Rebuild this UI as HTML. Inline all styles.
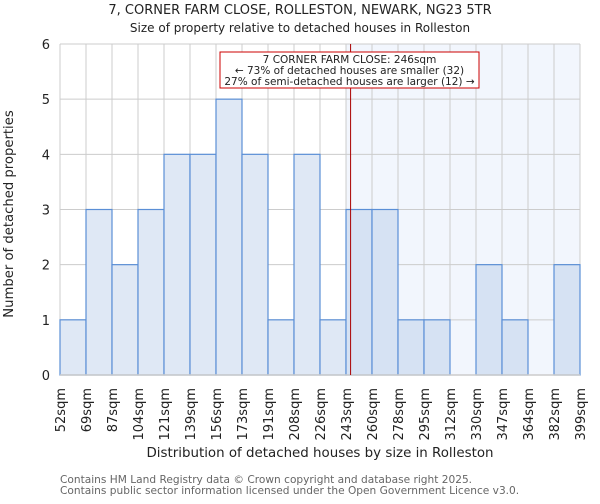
<!DOCTYPE html>
<html><head><meta charset="utf-8"><style>
body{margin:0;background:#fff;width:600px;height:500px;overflow:hidden;font-family:"DejaVu Sans","Liberation Sans",sans-serif}
</style></head><body>
<svg id="chart" width="600" height="500" xmlns="http://www.w3.org/2000/svg" font-family="DejaVu Sans, Liberation Sans, sans-serif">
<text x="300" y="14" font-size="13" text-anchor="middle" fill="#222">7, CORNER FARM CLOSE, ROLLESTON, NEWARK, NG23 5TR</text>
<text x="300" y="32" font-size="12" text-anchor="middle" fill="#222">Size of property relative to detached houses in Rolleston</text>
<g id="plot"></g>
<text x="320" y="457" font-size="13.4" text-anchor="middle" fill="#222">Distribution of detached houses by size in Rolleston</text>
<text transform="translate(13,214) rotate(-90)" font-size="13.2" text-anchor="middle" fill="#222">Number of detached properties</text>
<text x="60" y="483" font-size="10.6" fill="#666">Contains HM Land Registry data © Crown copyright and database right 2025.</text>
<text x="60" y="494" font-size="10.6" fill="#666">Contains public sector information licensed under the Open Government Licence v3.0.</text>
</svg>
<script>
const binEdges=[52,69,87,104,121,139,156,173,191,208,226,243,260,278,295,312,330,347,364,382,399];
const counts=[1,3,2,3,4,4,5,4,1,4,1,3,3,1,1,0,2,1,0,2];
const yTicks=[0,1,2,3,4,5,6];
const subjectSize=246;
const ns="http://www.w3.org/2000/svg";
const L=60,R=580,T=44,B=375,yMax=6;
const bw=(R-L)/counts.length;
function xi(i){return L+i*bw;}
function xv(v){for(let i=0;i<binEdges.length-1;i++){if(v<=binEdges[i+1])return xi(i)+(v-binEdges[i])/(binEdges[i+1]-binEdges[i])*bw;}return R;}
function y(v){return B-v/yMax*(B-T);}
const g=document.getElementById('plot');
function mk(t,a){const e=document.createElementNS(ns,t);for(const k in a)e.setAttribute(k,a[k]);g.appendChild(e);return e;}
let si=0;for(let i=0;i<binEdges.length-1;i++){if(subjectSize>=binEdges[i])si=i;}
const sh=mk('rect',{x:xi(si),y:T,width:R-xi(si),height:B-T,fill:'#f2f6fd'});


for(let i=0;i<binEdges.length;i++){const l=mk('line',{x1:xi(i),x2:xi(i),y1:T,y2:B,stroke:'#cccccc','stroke-width':1});

}
yTicks.forEach(v=>{const l=mk('line',{x1:L,x2:R,y1:y(v),y2:y(v),stroke:'#cccccc','stroke-width':1});


const t=mk('text',{x:L-10,y:y(v)+5,'font-size':13,'text-anchor':'end',fill:'#222'});t.textContent=v;

});
counts.forEach((c,i)=>{if(c<=0)return;const r=mk('rect',{x:xi(i),y:y(c),width:bw,height:B-y(c),fill:i>=si?'#d6e2f3':'#dfe8f5',stroke:'#5b8fd6','stroke-width':1.2});

});
const ax=mk('line',{x1:L,x2:R,y1:B,y2:B,stroke:'#cccccc','stroke-width':1.5});


binEdges.forEach((v,i)=>{const t=mk('text',{transform:'translate('+(xi(i)+5)+',388) rotate(-90)','font-size':13,'text-anchor':'end',fill:'#222'});t.textContent=v+'sqm';

});
const mx=xv(subjectSize);
const ml=mk('line',{x1:mx,x2:mx,y1:T,y2:B,stroke:'#aa0000','stroke-width':1});


const box=mk('rect',{x:220,y:52,width:259,height:36,fill:'#fff',stroke:'#cc0000','stroke-width':1});


['7 CORNER FARM CLOSE: '+subjectSize+'sqm','← 73% of detached houses are smaller (32)','27% of semi-detached houses are larger (12) →'].forEach((s,k)=>{const t=mk('text',{x:349.5,y:63+k*11,'font-size':10.5,'text-anchor':'middle',fill:'#222'});t.textContent=s;

});
</script>
</body></html>
